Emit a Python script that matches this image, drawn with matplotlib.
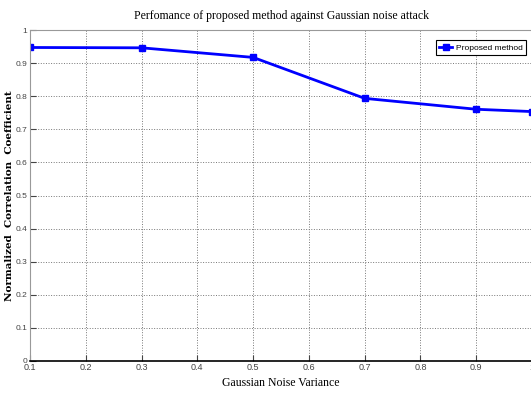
import numpy as np
import matplotlib
matplotlib.use('Agg')
import matplotlib.pyplot as plt

# valores
varianza = [0.1, 0.3, 0.5, 0.7, 0.9, 1.0]
ncc = [0.948, 0.947, 0.918, 0.794, 0.761, 0.754]

xticks = [0.1, 0.2, 0.3, 0.4, 0.5, 0.6, 0.7, 0.8, 0.9, 1.0]
xticklabels = ['0.1', '0.2', '0.3', '0.4', '0.5', '0.6', '0.7', '0.8', '0.9', '1']
yticks = [0, 0.1, 0.2, 0.3, 0.4, 0.5, 0.6, 0.7, 0.8, 0.9, 1]
yticklabels = ['0', '0.1', '0.2', '0.3', '0.4', '0.5', '0.6', '0.7', '0.8', '0.9', '1']

fig = plt.figure(figsize=(5.31, 3.98), dpi=100)
ax = fig.add_axes([30/531, 1-360.7/398, 502/531, (360.7-30.3)/398])

ax.plot(varianza, ncc, color='#0000ff', linewidth=2.0, marker='s',
        markersize=5, label='Proposed method')

ax.set_xlim(0.1, 1.0)
ax.set_ylim(0, 1)
ax.set_xticks(xticks)
ax.set_xticklabels(xticklabels, family='Liberation Sans', fontsize=6.5)
ax.set_yticks(yticks)
ax.set_yticklabels(yticklabels, family='Liberation Sans', fontsize=6)
ax.tick_params(direction='in', length=4, width=0.8, pad=2, colors='#444444')
ax.grid(True, linestyle=':', color='#777777', linewidth=0.7)

for s in ['left', 'top', 'right']:
    ax.spines[s].set_color('#999999')
ax.spines['bottom'].set_color('black')
ax.spines['bottom'].set_linewidth(1.2)

ax.set_title('Perfomance of proposed method against Gaussian noise attack',
             family='Liberation Serif', fontsize=8.5, pad=8)
ax.set_xlabel('Gaussian Noise Variance', family='Liberation Serif', fontsize=8.5, labelpad=3)
ax.set_ylabel('Normalized  Correlation  Coefficient', family='DejaVu Serif',
              fontsize=7.5, fontweight='bold')
ax.yaxis.set_label_coords(-0.031, 0.5)

leg = ax.legend(loc='upper right', prop={'family': 'Liberation Sans', 'size': 6},
                fancybox=False, edgecolor='black', framealpha=1,
                handlelength=1.6, handletextpad=0.4, borderpad=0.4,
                bbox_to_anchor=(0.996, 0.982))
leg.get_frame().set_linewidth(0.8)

fig.savefig('out.png', dpi=100)
